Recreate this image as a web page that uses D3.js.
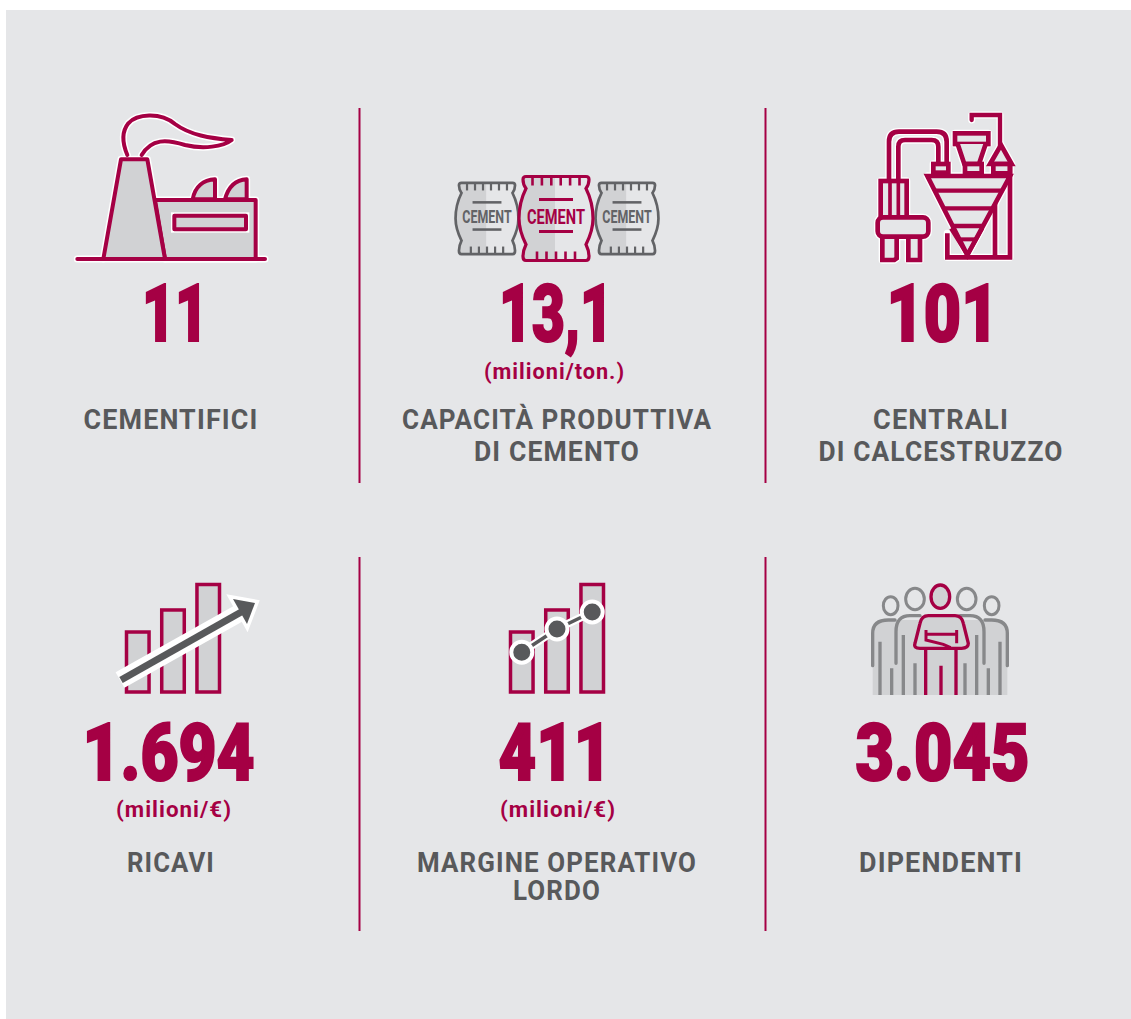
<!DOCTYPE html>
<html>
<head>
<meta charset="utf-8">
<title>Cementir in numeri</title>
<script src="https://cdn.jsdelivr.net/npm/d3@7"></script>
<style>
  html, body { margin: 0; background: #fff; }
  svg { display: block; }
  text { font-family: Roboto, "Noto Sans", sans-serif; text-anchor: middle; }
</style>
</head>
<body>
<div id="visualization"></div>
<script>
const cardValues = ['11', '13,1', '101', '1.694', '411', '3.045'];
const cardUnits = ['', '(milioni/ton.)', '', '(milioni/€)', '(milioni/€)', ''];
const cardLabels = [
    ['CEMENTIFICI'],
    ['CAPACITÀ PRODUTTIVA', 'DI CEMENTO'],
    ['CENTRALI', 'DI CALCESTRUZZO'],
    ['RICAVI'],
    ['MARGINE OPERATIVO', 'LORDO'],
    ['DIPENDENTI']
];
const growthBars = [55.8, 76.3, 100];
const marginPoints = [37, 58.6, 74.4];

const crimson = '#a50044';
const dark = '#58595b';
const grey = '#87888a';
const light = '#d1d2d4';
const panel = '#e5e6e8';

// where each card sits, and how wide its texts come out in the reference
const cardX = [175, 556, 942.5, 168.5, 555, 942.5];
const unitX = [0, 554.5, 0, 174, 558, 0];
const labelX = [171, 557, 941, 171, 557, 941];
const valueBase = [341, 341, 341, 780, 780, 780];
const unitBase = [0, 379, 0, 817, 817, 0];
const labelBase = [[429], [429, 461], [429, 461], [872], [872, 900], [872]];
const valueWidth = [66, 114, 112, 172, 113, 174];
const unitWidth = [0, 141, 0, 116, 116, 0];
const labelWidth = [[175], [310, 166], [136, 245], [88], [280, 88], [164]];

const svg = d3.select('#visualization').append('svg')
    .attr('width', 1131).attr('height', 1019);

svg.append('rect').attr('x', 6).attr('y', 10).attr('width', 1125).attr('height', 1009).attr('fill', panel);

// dividers
[[108, 483], [557, 931]].forEach(function( r ) {
    [359.5, 765.5].forEach(function( x ) {
        svg.append('line').attr('x1', x).attr('x2', x).attr('y1', r[0]).attr('y2', r[1])
            .attr('stroke', crimson).attr('stroke-width', 2);
    });
});

function fitted( sel, width ) {
    return sel.attr('textLength', width).attr('lengthAdjust', 'spacingAndGlyphs');
}

cardValues.forEach(function( v, i ) {
    // the condensed glyphs lose weight, the stroke gives it back
    fitted( svg.append('text').attr('x', cardX[i]).attr('y', valueBase[i])
        .attr('font-size', 79).attr('font-weight', 900).attr('fill', crimson)
        .attr('stroke', crimson).attr('stroke-width', 2.2).text( v ), valueWidth[i] );

    if ( cardUnits[i] ) {
        fitted( svg.append('text').attr('x', unitX[i]).attr('y', unitBase[i])
            .attr('font-size', 22).attr('font-weight', 700).attr('letter-spacing', 1).attr('fill', crimson)
            .text( cardUnits[i] ), unitWidth[i] );
    }

    cardLabels[i].forEach(function( line, j ) {
        fitted( svg.append('text').attr('x', labelX[i]).attr('y', labelBase[i][j])
            .attr('font-size', 28).attr('font-weight', 700).attr('letter-spacing', 1.2).attr('fill', dark)
            .text( line ), labelWidth[i][j] );
    });
});

// the three upper icons are traced at 3x, so they get a scaled group.
// white halos go on a layer of their own under all the ink
function traced( x, y ) {
    const g = svg.append('g').attr('transform', 'translate(' + [x, y] + ') scale(' + (1 / 3) + ')');
    g.append('g').attr('class', 'halo');
    g.append('g').attr('class', 'ink');
    return g;
}

function outlined( parent, tag, attrs, style ) {
    const halo = parent.select('.halo').append( tag );
    const shape = parent.select('.ink').append( tag );
    Object.keys( attrs ).forEach(function( k ) { halo.attr( k, attrs[k] ); shape.attr( k, attrs[k] ); });
    halo.attr('fill', 'none').attr('stroke', '#fff').attr('stroke-width', style.sw + style.halo)
        .attr('stroke-linejoin', 'round').attr('stroke-linecap', 'round');
    shape.attr('fill', style.fill || 'none').attr('stroke', style.stroke).attr('stroke-width', style.sw)
        .attr('stroke-linejoin', style.join || 'miter').attr('stroke-linecap', style.cap || 'butt');
    return shape;
}

function plain( parent, d, stroke, sw, fill, cap ) {
    return parent.append('path').attr('d', d).attr('stroke', stroke).attr('stroke-width', sw)
        .attr('fill', fill || 'none').attr('stroke-linecap', cap || 'butt');
}

/* factory */
const factory = traced( 60, 100 );
const ink = { stroke: crimson, sw: 12, halo: 9, cap: 'round', join: 'round' };
const inkFill = Object.assign( {}, ink, { fill: light } );
outlined( factory, 'path', { d: 'M398,298C405,260 430,240 465,238V298Z' }, inkFill );
outlined( factory, 'path', { d: 'M495,298C505,260 525,240 560,238V298Z' }, inkFill );
outlined( factory, 'path', { d: 'M285,300H587V477H315Z' }, inkFill );
factory.select('.ink').append('rect').attr('x', 343).attr('y', 347).attr('width', 215).attr('height', 41)
    .attr('fill', 'none').attr('stroke', '#fff').attr('stroke-width', 20);
outlined( factory, 'rect', { x: 343, y: 347, width: 215, height: 41 }, inkFill );
outlined( factory, 'path', { d: 'M130,477L183,178H262L315,477' }, inkFill );
outlined( factory, 'path', { d: 'M202,165C185,125 185,95 205,70C230,42 300,35 345,72C390,105 450,115 515,120C490,140 430,148 375,135C320,118 275,115 245,165' }, ink );
outlined( factory, 'path', { d: 'M52,477H615' }, ink );

/* cement bags */
const bagPath = 'M-30,-42H30Q33,-42 33,-39Q33,-34 30,-30C34,-22 37,-10 37,0C37,10 33,20 30,26Q33,32 33,38Q33,42 30,42'
    + 'H-30Q-33,42 -33,38Q-33,32 -30,26C-33,20 -37,10 -37,0C-37,-10 -34,-22 -30,-30Q-33,-34 -33,-39Q-33,-42 -30,-42Z';
const bagShade = 'M-30,-42H-1V42H-30Q-33,42 -33,38Q-33,32 -30,26C-33,20 -37,10 -37,0C-37,-10 -34,-22 -30,-30Q-33,-34 -33,-39Q-33,-42 -30,-42Z';

function cementBag( cx, cy, k, color ) {
    const g = svg.append('g').attr('transform', 'translate(' + [cx, cy] + ') scale(' + k + ')');
    g.append('path').attr('d', bagPath).attr('fill', panel);
    g.append('path').attr('d', bagShade).attr('fill', light);
    g.append('path').attr('d', bagPath).attr('fill', 'none').attr('stroke', color).attr('stroke-width', 3.2);
    d3.range( 6 ).forEach(function( i ) {
        const x = -23.5 + i * 9.4;
        g.append('line').attr('x1', x).attr('x2', x).attr('y1', -42).attr('y2', -33).attr('stroke', color).attr('stroke-width', 2.6);
    });
    d3.range( 5 ).forEach(function( i ) {
        const x = -19 + i * 9.5;
        g.append('line').attr('x1', x).attr('x2', x).attr('y1', 33).attr('y2', 42).attr('stroke', color).attr('stroke-width', 2.6);
    });
    [-19, 13].forEach(function( y ) {
        g.append('line').attr('x1', -17).attr('x2', 17).attr('y1', y).attr('y2', y).attr('stroke', color).attr('stroke-width', 3);
    });
    fitted( g.append('text').attr('x', 0).attr('y', 5).attr('font-size', 21).attr('font-weight', 700).attr('fill', color).text('CEMENT'), 58 );
}
cementBag( 487, 218.5, 0.85, '#626366' );
cementBag( 627, 218.5, 0.85, '#626366' );
cementBag( 556, 218.5, 1, crimson );

/* concrete plant */
const plant = traced( 865, 100 );
const pipe = { stroke: crimson, sw: 14, halo: 8, join: 'miter' };
const pipeFill = Object.assign( {}, pipe, { fill: panel } );
outlined( plant, 'path', { d: 'M320,60V45H405V140' }, { stroke: crimson, sw: 13, halo: 8, cap: 'round' } );
outlined( plant, 'path', { d: 'M72,240V125Q72,95 102,95H215Q245,95 245,125V190' }, pipe );
outlined( plant, 'path', { d: 'M100,240V140Q100,120 120,120H200Q220,120 220,140V190' }, pipe );
outlined( plant, 'rect', { x: 205, y: 192, width: 45, height: 26 }, pipeFill );
outlined( plant, 'rect', { x: 270, y: 100, width: 100, height: 32 }, pipeFill );
outlined( plant, 'path', { d: 'M278,132L298,192H342L362,132' }, pipeFill );
outlined( plant, 'rect', { x: 300, y: 192, width: 50, height: 28 }, pipeFill );
outlined( plant, 'path', { d: 'M408,135L375,192H440Z' }, pipeFill );
outlined( plant, 'rect', { x: 385, y: 192, width: 50, height: 28 }, pipeFill );
outlined( plant, 'path', { d: 'M247,400V472H435V190M390,300V472' }, pipe );
outlined( plant, 'path', { d: 'M187,228H435L307,465Z' }, pipeFill );
plain( plant.select('.ink'), 'M212,272H410M240,325H382M265,378H355', crimson, 13 );
plain( plant.select('.ink'), 'M258,385L307,465L352,385', crimson, 12 );
plain( plant.select('.ink'), 'M282,418H332', crimson, 12 );
outlined( plant, 'rect', { x: 47, y: 243, width: 78, height: 110 }, pipeFill );
plain( plant.select('.ink'), 'M75,243V350M100,243V350', crimson, 11 );
outlined( plant, 'path', { d: 'M52,410V480H88L95,475V410M130,410V480H165V410' }, pipeFill );
outlined( plant, 'rect', { x: 38, y: 352, width: 152, height: 58, rx: 16 }, pipeFill );

/* bars, used by the two lower icons */
function barIcon( x0, values ) {
    const g = svg.append('g');
    const x = d3.scaleBand().domain( d3.range( values.length ) ).range([x0, x0 + 93]).paddingInner( 0.36 );
    const y = d3.scaleLinear().domain([0, 100]).range([692, 584.5]);
    g.selectAll('rect').data( values ).enter().append('rect')
        .attr('x', function( d, i ) { return x( i ); })
        .attr('y', function( d ) { return y( d ); })
        .attr('width', x.bandwidth())
        .attr('height', function( d ) { return y( 0 ) - y( d ); })
        .attr('fill', light).attr('stroke', crimson).attr('stroke-width', 3.5);
    return { g: g, x: x, y: y };
}

/* revenue */
const revenue = barIcon( 126.5, growthBars );
revenue.g.append('path').attr('d', 'M120,680L243,611').attr('stroke', '#fff').attr('stroke-width', 18).attr('fill', 'none');
revenue.g.append('path').attr('d', 'M233,599L255,603L247,624Z').attr('fill', '#fff').attr('stroke', '#fff').attr('stroke-width', 7).attr('stroke-linejoin', 'miter');
revenue.g.append('path').attr('d', 'M121,680L243,611').attr('stroke', dark).attr('stroke-width', 7).attr('fill', 'none');
revenue.g.append('path').attr('d', 'M233,599L255,603L247,624Z').attr('fill', dark);

/* margin */
const margin = barIcon( 510.5, growthBars );
const marginLine = d3.line()
    .x(function( d, i ) { return margin.x( i ) + margin.x.bandwidth() / 2; })
    .y(function( d ) { return margin.y( d ); });
margin.g.append('path').attr('d', marginLine( marginPoints )).attr('stroke', '#fff').attr('stroke-width', 8).attr('fill', 'none');
margin.g.append('path').attr('d', marginLine( marginPoints )).attr('stroke', dark).attr('stroke-width', 3.5).attr('fill', 'none');
margin.g.selectAll('circle').data( marginPoints ).enter().append('circle')
    .attr('cx', function( d, i ) { return margin.x( i ) + margin.x.bandwidth() / 2; })
    .attr('cy', function( d ) { return margin.y( d ); })
    .attr('r', 10.5).attr('fill', dark).attr('stroke', '#fff').attr('stroke-width', 4);

/* people */
const people = traced( 860, 575 ).select('.ink');
plain( people, 'M38,360V175Q38,135 80,135H400Q442,135 442,175V360Z', 'none', 0, light );
plain( people, 'M38,272V175Q38,135 85,135H105M442,272V175Q442,135 395,135H375', grey, 10, 'none', 'round' );
plain( people, 'M108,265V170Q108,122 150,122H180M372,265V170Q372,122 330,122H300', grey, 10, 'none', 'round' );
plain( people, 'M60,200V360M95,280V360M130,180V360M165,265V360M350,180V360M315,265V360M420,200V360M385,280V360', grey, 10 );
[[92, 92, 22, 27], [395, 92, 22, 27], [165, 72, 28, 32], [320, 72, 28, 32]].forEach(function( h ) {
    people.append('ellipse').attr('cx', h[0]).attr('cy', h[1]).attr('rx', h[2]).attr('ry', h[3])
        .attr('fill', panel).attr('stroke', grey).attr('stroke-width', 9);
});
people.append('ellipse').attr('cx', 241).attr('cy', 65).attr('rx', 28).attr('ry', 35)
    .attr('fill', light).attr('stroke', crimson).attr('stroke-width', 10);
plain( people, 'M205,122H285Q305,122 310,145L325,205Q325,220 305,220H180Q160,220 165,205L180,145Q185,122 205,122Z', crimson, 10, light );
plain( people, 'M198,165V195L250,208L272,218M198,178H290M290,165V205', crimson, 9 );
plain( people, 'M197,222V360M288,222V360M243,272V360', crimson, 10 );
</script>
</body>
</html>
